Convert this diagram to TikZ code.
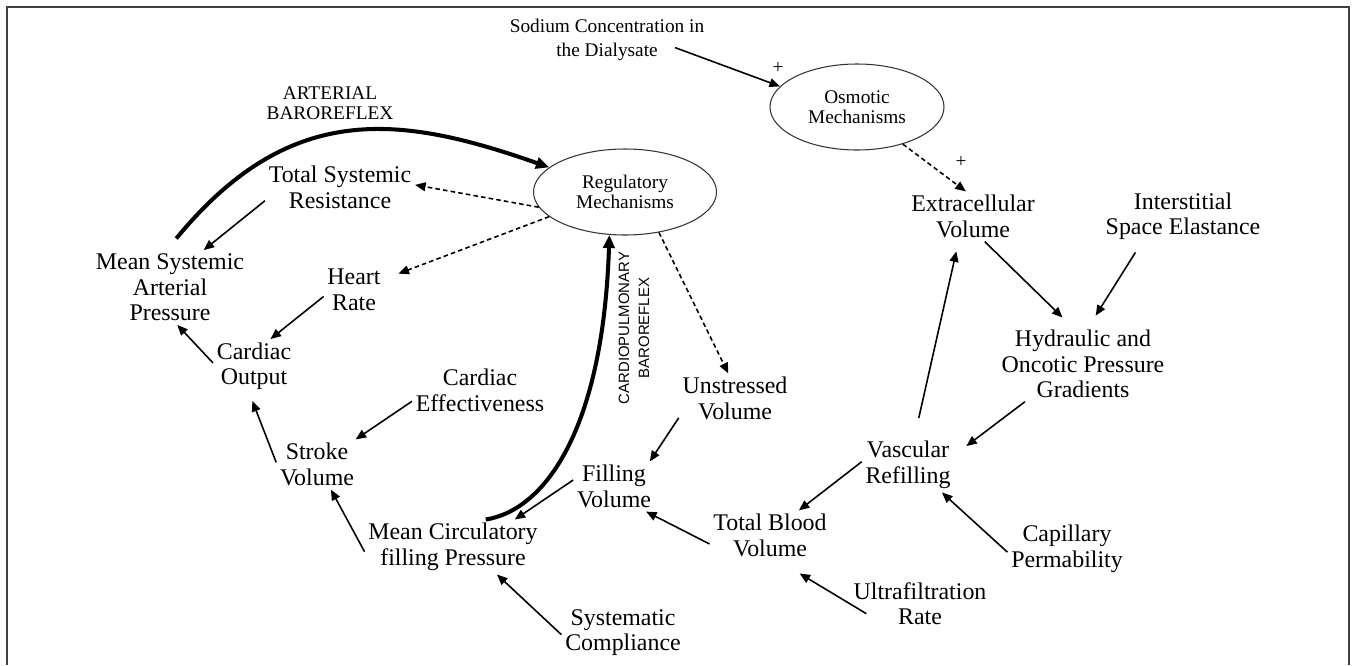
\documentclass[tikz,border=0pt]{standalone}
\usepackage{fontspec}
\setmainfont{Liberation Serif}
\newfontfamily\cpfont{Liberation Sans}
\usetikzlibrary{arrows.meta, shapes.geometric}
\newcommand{\mainfs}{\fontsize{13.6}{14.5}\selectfont}
\newcommand{\smallfs}{\fontsize{11}{11.3}\selectfont}
\newcommand{\srcfs}{\fontsize{11}{13.6}\selectfont}
\newcommand{\cpfs}{\cpfont\fontsize{8.5}{11.3}\selectfont}

\begin{document}
\begin{tikzpicture}[
  every node/.style={inner sep=2pt},
  var/.style={font=\mainfs, align=center},
  src/.style={font=\srcfs, align=center},
  lbl/.style={font=\smallfs, align=center},
  cplbl/.style={font=\cpfs, align=center, rotate=90},
  plus/.style={font=\smallfs, inner sep=0pt},
  mech/.style={ellipse, draw=black!80, line width=0.6pt, font=\smallfs,
               align=center, minimum width=#1, minimum height=1.72cm, inner sep=0pt},
  arr/.style={-{Triangle[length=6pt,width=5pt]}, line width=0.9pt},
  darr/.style={arr, dash pattern=on 2.6pt off 1.8pt},
  barr/.style={-{Triangle[length=7.5pt,width=6.5pt]}, line width=2.3pt}
]
\useasboundingbox (0,0) rectangle (27.06,-13.3);

% Frame
\draw[draw=black!75, line width=1.1pt] (0.14,-13.3) -- (0.14,-0.14) -- (26.98,-0.14) -- (26.98,-13.3);

% Mechanisms
\node[src] (sod) at (12.14,-0.80) {Sodium Concentration in\\the Dialysate};
\node[mech=3.48cm] (osm) at (17.14,-2.14) {Osmotic\\Mechanisms};
\node[mech=3.66cm] (reg) at (12.5,-3.84) {Regulatory\\Mechanisms};
\node[plus] (plusosm) at (15.56,-1.36) {+};
\node[plus] (plusecv) at (19.22,-3.24) {+};

% Cardiovascular side
\node[lbl]  (artl) at (6.6,-2.06)   {ARTERIAL\\BAROREFLEX};
\node[var]  (tsr)  at (6.8,-3.75)   {Total Systemic\\Resistance};
\node[var]  (msap) at (3.4,-5.75)   {Mean Systemic\\Arterial\\Pressure};
\node[var]  (hr)   at (7.08,-5.8)   {Heart\\Rate};
\node[var]  (co)   at (5.08,-7.33)  {Cardiac\\Output};
\node[var]  (ce)   at (9.6,-7.81)   {Cardiac\\Effectiveness};
\node[var]  (sv)   at (6.34,-9.29)  {Stroke\\Volume};
\node[var]  (fv)   at (12.28,-9.73) {Filling\\Volume};
\node[var]  (mcfp) at (9.06,-10.94) {Mean Circulatory\\filling Pressure};
\node[var]  (sc)   at (12.46,-12.65){Systematic\\Compliance};
\node[cplbl] (cpl) at (12.68,-6.56) {CARDIOPULMONARY\\BAROREFLEX};
\node[var]  (uv)   at (14.7,-7.97)  {Unstressed\\Volume};

% Fluid side
\node[var]  (ecv)  at (19.46,-4.33) {Extracellular\\Volume};
\node[var]  (ise)  at (23.66,-4.33) {Interstitial\\Space Elastance};
\node[var]  (hopg) at (21.66,-7.28) {Hydraulic and\\Oncotic Pressure\\Gradients};
\node[var]  (vr)   at (18.16,-9.3)  {Vascular\\Refilling};
\node[var]  (tbv)  at (15.4,-10.71) {Total Blood\\Volume};
\node[var]  (cap)  at (21.34,-10.98){Capillary\\Permability};
\node[var]  (ufr)  at (18.4,-12.07) {Ultrafiltration\\Rate};

% Links
\draw[arr] ([xshift=-0.66cm,yshift=0.34cm]sod.south east) -- (osm.165);
\draw[darr] (osm.321) -- (ecv.106);
\draw[barr, shorten <=0.3cm] (msap.95) .. controls (5.8,-2.0) and (8.0,-2.3) .. (reg.162);
\draw[darr] (reg.190) -- (tsr.2);
\draw[arr] (tsr.190) -- (msap.48);
\draw[darr, shorten >=0.3cm] (reg.198) -- (hr.20);
\draw[arr] (hr.192) -- (co.59);
\draw[arr] (co.175) -- (msap.281);
\draw[arr, shorten >=0.15cm] (sv.177) -- (co.261);
\draw[arr] (ce.189) -- (sv.33);
\draw[arr] (mcfp.183) -- (sv.299);
\draw[arr] (sc.182) -- (mcfp.328);
\draw[barr] (mcfp.40) .. controls (10.9,-10.2) and (12.06,-8.6) .. (reg.250);
\draw[arr] (fv.171) -- (mcfp.24);
\draw[darr] (reg.310) -- (uv.105);
\draw[arr] (uv.199) -- (fv.35);
\draw[arr] (tbv.188) -- (fv.322);
\draw[arr] (vr.176) -- (tbv.41);
\draw[arr, shorten <=0.4cm, shorten >=0.2cm] (vr.77) -- (ecv.240);
\draw[arr, shorten >=0.25cm] (ecv.295) -- (hopg.107);
\draw[arr, shorten <=0.2cm, shorten >=0.25cm] (ise.213) -- (hopg.81);
\draw[arr, shorten >=0.3cm] (hopg.213) -- (vr.12);
\draw[arr] (cap.183) -- (vr.321);
\draw[arr, shorten >=0.5cm] ([xshift=0.33cm,yshift=0.3cm]ufr.south west) -- (tbv.288);

\end{tikzpicture}
\end{document}
